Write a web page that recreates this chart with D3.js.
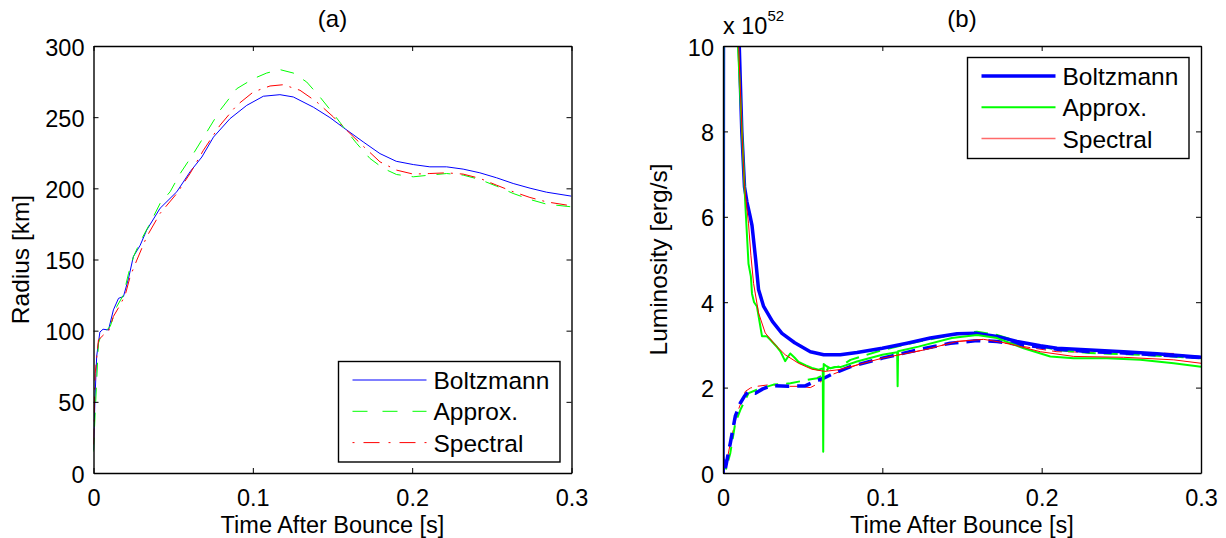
<!DOCTYPE html>
<html><head><meta charset="utf-8">
<script src="https://cdn.jsdelivr.net/npm/d3@7"></script>
<style>
body{margin:0;background:#fff}
svg{display:block}
text{font-family:"Liberation Sans",Arial,Helvetica,sans-serif;fill:#000}
</style>
</head><body>
<svg id="c" width="1226" height="538"></svg>
<script>
// ---------- DATA ----------
const seriesNames = ["Boltzmann", "Approx.", "Spectral"];
const timeTicks = [0, 0.1, 0.2, 0.3];
const radiusTicks = [0, 50, 100, 150, 200, 250, 300];
const lumTicks = [0, 2, 4, 6, 8, 10];

// Panel (a): shock radius [km] vs time [s]
const radiusBoltzmann = [[0,16],[0.001,54],[0.002,82],[0.004,99],[0.006,101],[0.0094,100.5],[0.0125,114.6],[0.0157,122.7],[0.0188,124],[0.022,136.8],[0.025,152],[0.0293,160],[0.0334,170.7],[0.0418,186],[0.0523,197.6],[0.0606,211.6],[0.068,222],[0.0753,236],[0.0857,249],[0.0962,258.3],[0.1066,264.7],[0.117,265.8],[0.1254,264.2],[0.138,257],[0.1484,249.7],[0.1568,242.7],[0.1693,232.6],[0.1798,224.4],[0.19,219],[0.2007,216.7],[0.2111,215.1],[0.2216,215.1],[0.232,213.5],[0.2425,210.9],[0.253,207.4],[0.2634,203.4],[0.274,200.1],[0.2843,197.3],[0.3,194.5]];
const radiusApprox = [[0,15],[0.00105,42.1],[0.0031,91.2],[0.0052,98.2],[0.0073,99.4],[0.0105,102.9],[0.0146,116.9],[0.0188,125.1],[0.022,140.3],[0.0251,152],[0.0293,162.5],[0.0355,175.4],[0.0418,189.4],[0.0481,197.6],[0.0544,210.4],[0.0627,224.4],[0.0711,239.6],[0.0794,254.8],[0.0899,270],[0.1003,277],[0.1087,281],[0.117,283.4],[0.1254,281],[0.1338,274.7],[0.1421,264.2],[0.1505,252.5],[0.1568,243.2],[0.1652,231.5],[0.1735,221],[0.1819,214],[0.1902,209.7],[0.2007,208.1],[0.2111,209.3],[0.2216,210.4],[0.232,209.3],[0.2425,206.2],[0.253,201.5],[0.2634,196.4],[0.2739,192.2],[0.2843,188.9],[0.3,187]];
const radiusSpectral = [[0,20],[0.00105,70],[0.0031,93.5],[0.0063,97],[0.0094,99.4],[0.0125,110],[0.0167,118],[0.0199,125.1],[0.023,138],[0.0272,149.6],[0.0334,166],[0.0418,182.4],[0.0523,196.4],[0.0606,210.4],[0.069,226.8],[0.0794,244.3],[0.0899,258.3],[0.1003,267.7],[0.1108,271.9],[0.1191,272.8],[0.1296,268.9],[0.1401,260.7],[0.1505,250.2],[0.1589,240.8],[0.1693,229.6],[0.1798,218.6],[0.1902,212.8],[0.2007,210],[0.2111,210.4],[0.2216,210.9],[0.232,210],[0.2425,207],[0.253,202.2],[0.2634,197.6],[0.2739,193.6],[0.2843,190.5],[0.3,187.7]];

// Panel (b): luminosity [1e52 erg/s] vs time [s]; solid = neutrinos, dashed = antineutrinos
const lumBoltzmann = [[0,0],[0.0004,14],[0.009,14],[0.0102,10],[0.0118,8.0],[0.0135,6.7],[0.015,6.35],[0.0168,6.05],[0.0182,5.8],[0.0205,5.0],[0.0223,4.3],[0.0255,3.9],[0.031,3.55],[0.037,3.27],[0.045,3.05],[0.0548,2.84],[0.0632,2.77],[0.0736,2.77],[0.0841,2.82],[0.1,2.92],[0.1155,3.04],[0.1301,3.16],[0.1469,3.26],[0.1594,3.27],[0.172,3.2],[0.1845,3.08],[0.1992,2.98],[0.2096,2.92],[0.2305,2.88],[0.2515,2.84],[0.2724,2.79],[0.3,2.71]];
const lumApprox = [[0,0],[0.0003,14],[0.0085,14],[0.0094,10],[0.0119,8.0],[0.014,6.3],[0.016,4.9],[0.0175,4.6],[0.0182,4.2],[0.0195,4.0],[0.0213,3.9],[0.0245,3.2],[0.0275,3.2],[0.0297,3.12],[0.0339,2.95],[0.036,2.85],[0.039,2.62],[0.0422,2.8],[0.045,2.7],[0.0474,2.6],[0.052,2.52],[0.0558,2.46],[0.06,2.42],[0.0626,2.45],[0.0629,0.5],[0.0632,2.55],[0.065,2.5],[0.0675,2.45],[0.07,2.48],[0.0736,2.48],[0.0841,2.61],[0.1,2.77],[0.1093,2.83],[0.1096,2.03],[0.1099,2.85],[0.1227,2.96],[0.1436,3.16],[0.1594,3.23],[0.172,3.16],[0.1887,2.92],[0.2054,2.73],[0.2201,2.69],[0.241,2.69],[0.2619,2.65],[0.2829,2.57],[0.3,2.49]];
const lumSpectral = [[0,0],[0.0002,14],[0.0085,14],[0.0098,10],[0.012,7.9],[0.0135,6.7],[0.0151,6.16],[0.016,5.85],[0.0175,5.1],[0.0192,4.44],[0.0223,3.75],[0.0265,3.28],[0.0328,3.0],[0.039,2.77],[0.0474,2.57],[0.0558,2.43],[0.064,2.38],[0.0728,2.42],[0.0841,2.53],[0.1,2.69],[0.1259,2.88],[0.1469,3.08],[0.1636,3.13],[0.1782,3.04],[0.1992,2.84],[0.2201,2.73],[0.2515,2.71],[0.2829,2.65],[0.3,2.57]];
const lumBarBoltzmann = [[0,0],[0.0004,0.3],[0.0015,0.1],[0.003,0.4],[0.0046,0.7],[0.0077,1.33],[0.0109,1.64],[0.0135,1.8],[0.016,1.91],[0.0203,1.87],[0.025,1.97],[0.0307,2.05],[0.041,2.03],[0.0516,2.04],[0.0579,2.15],[0.0632,2.22],[0.0705,2.35],[0.08,2.49],[0.1,2.69],[0.1218,2.88],[0.1427,3.04],[0.1594,3.1],[0.172,3.08],[0.1887,3.0],[0.21,2.9],[0.2305,2.84],[0.2515,2.81],[0.2724,2.77],[0.3,2.7]];
const lumBarApprox = [[0,0],[0.0003,0.2],[0.002,0.1],[0.0046,0.47],[0.0077,1.17],[0.0109,1.48],[0.0161,1.87],[0.0213,1.95],[0.0318,2.07],[0.0423,2.1],[0.0527,2.18],[0.059,2.22],[0.0632,2.3],[0.066,2.45],[0.074,2.5],[0.08,2.65],[0.1,2.88],[0.1227,3.08],[0.1436,3.23],[0.1594,3.31],[0.172,3.23],[0.1887,3.04],[0.21,2.88],[0.2305,2.81],[0.262,2.77],[0.3,2.69]];
const lumBarSpectral = [[0,0],[0.0002,0.45],[0.0015,0.1],[0.0046,0.7],[0.0088,1.4],[0.014,1.91],[0.0172,1.99],[0.0213,2.03],[0.0297,2.07],[0.04,2.03],[0.0485,2.03],[0.0548,2.0],[0.06,2.1],[0.0653,2.26],[0.0841,2.53],[0.1,2.69],[0.1259,2.88],[0.1469,3.08],[0.1636,3.13],[0.1887,2.96],[0.2096,2.84],[0.2515,2.82],[0.2829,2.8],[0.3,2.69]];

// ---------- DRAWING ----------
const svg = d3.select('#c');
const FS_TICK = 23.5, FS_LABEL = 23.5, FS_LEG = 24.5, FS_TITLE = 24;
const BLUE = '#0000ff', GREEN = '#00ff00', RED = '#ff0000';

function panel(cfg) {
  const x = d3.scaleLinear().domain([0, 0.3]).range([cfg.x0, cfg.x1]);
  const y = d3.scaleLinear().domain(cfg.yDomain).range([cfg.y1, cfg.y0]);
  const g = svg.append('g');
  const clipId = 'clip' + cfg.id;
  svg.append('clipPath').attr('id', clipId).append('rect')
    .attr('x', cfg.x0).attr('y', cfg.y0).attr('width', cfg.x1 - cfg.x0).attr('height', cfg.y1 - cfg.y0);

  const line = d3.line().x(d => x(d[0])).y(d => y(d[1]));
  const lg = g.append('g').attr('clip-path', `url(#${clipId})`);
  cfg.series.forEach(s => {
    lg.append('path').datum(s.data).attr('d', line).attr('fill', 'none')
      .attr('stroke', s.color).attr('stroke-width', s.width)
      .attr('stroke-dasharray', s.dash || null)
      .attr('stroke-linejoin', 'round');
  });

  const styleAxis = sel => {
    sel.select('.domain').attr('stroke', '#000').attr('stroke-width', 1.4);
    sel.selectAll('.tick line').attr('stroke', '#000').attr('stroke-width', 1);
    sel.selectAll('text').style('font-size', FS_TICK + 'px').attr('fill', '#000');
  };
  const ax = g.append('g').attr('transform', `translate(0,${cfg.y1})`)
    .call(d3.axisBottom(x).tickValues(timeTicks).tickSize(-5).tickSizeOuter(0).tickFormat(d3.format('')));
  styleAxis(ax);
  ax.selectAll('text').attr('y', 32.5).attr('dy', null);
  const axt = g.append('g').attr('transform', `translate(0,${cfg.y0})`)
    .call(d3.axisTop(x).tickValues(timeTicks).tickSize(-5).tickSizeOuter(0).tickFormat(''));
  styleAxis(axt);
  const ay = g.append('g').attr('transform', `translate(${cfg.x0},0)`)
    .call(d3.axisLeft(y).tickValues(cfg.yTicks).tickSize(-5).tickSizeOuter(0).tickFormat(d3.format('d')));
  styleAxis(ay);
  ay.selectAll('text').attr('x', -9).attr('y', 9).attr('dy', null);
  const ayr = g.append('g').attr('transform', `translate(${cfg.x1},0)`)
    .call(d3.axisRight(y).tickValues(cfg.yTicks).tickSize(-5).tickSizeOuter(0).tickFormat(''));
  styleAxis(ayr);

  g.append('text').attr('x', (cfg.x0 + cfg.x1) / 2).attr('y', 27).attr('text-anchor', 'middle')
    .style('font-size', FS_TITLE + 'px').text(cfg.title);
  g.append('text').attr('x', (cfg.x0 + cfg.x1) / 2).attr('y', 532.5).attr('text-anchor', 'middle')
    .style('font-size', FS_LABEL + 'px').text('Time After Bounce [s]');
  g.append('text').attr('transform', `translate(${cfg.ylabelX},${(cfg.y0 + cfg.y1) / 2}) rotate(-90)`)
    .attr('text-anchor', 'middle').style('font-size', '24.5px').text(cfg.ylabel);

  const L = cfg.legend;
  const lgd = g.append('g');
  lgd.append('rect').attr('x', L.x).attr('y', L.y).attr('width', L.w).attr('height', L.h)
    .attr('fill', '#fff').attr('stroke', '#000').attr('stroke-width', 1.4);
  L.items.forEach((it, i) => {
    const yy = L.y + L.first + i * L.step;
    lgd.append('line').attr('x1', L.x + 14).attr('x2', L.x + 88).attr('y1', yy).attr('y2', yy)
      .attr('stroke', it.color).attr('stroke-width', it.width).attr('stroke-dasharray', it.dash || null);
    lgd.append('text').attr('x', L.x + 95).attr('y', yy + 9).style('font-size', FS_LEG + 'px').text(it.name);
  });
  return {x, y, g};
}

panel({
  id: 'a', x0: 93.5, x1: 571.5, y0: 46, y1: 473, yDomain: [0, 300], yTicks: radiusTicks,
  title: '(a)', ylabel: 'Radius [km]', ylabelX: 29,
  series: [
    {data: radiusBoltzmann, color: BLUE, width: 1},
    {data: radiusApprox, color: GREEN, width: 1, dash: '14,11'},
    {data: radiusSpectral, color: RED, width: 1, dash: '16,7,2,7'}
  ],
  legend: {x: 338.5, y: 361.5, w: 221.5, h: 100.5, first: 18.5, step: 31.3, items: [
    {name: seriesNames[0], color: BLUE, width: 1},
    {name: seriesNames[1], color: GREEN, width: 1, dash: '15,15'},
    {name: seriesNames[2], color: RED, width: 1, dash: '2,9,16,9'}
  ]}
});

panel({
  id: 'b', x0: 723, x1: 1201, y0: 46, y1: 473, yDomain: [0, 10], yTicks: lumTicks,
  title: '(b)', ylabel: 'Luminosity [erg/s]', ylabelX: 667,
  series: [
    {data: lumBarSpectral, color: RED, width: 1, dash: '10,6'},
    {data: lumBarApprox, color: GREEN, width: 2, dash: '14,8'},
    {data: lumBarBoltzmann, color: BLUE, width: 3.5, dash: '14,8'},
    {data: lumBoltzmann, color: BLUE, width: 3.5},
    {data: lumApprox, color: GREEN, width: 2},
    {data: lumSpectral, color: RED, width: 1}
  ],
  legend: {x: 967.5, y: 57.5, w: 221.5, h: 101, first: 18.5, step: 31.3, items: [
    {name: seriesNames[0], color: BLUE, width: 3.5},
    {name: seriesNames[1], color: GREEN, width: 2},
    {name: seriesNames[2], color: '#ff6a6a', width: 1.5}
  ]}
});

const ex = svg.append('text').attr('x', 723).attr('y', 34).style('font-size', FS_TICK + 'px');
ex.append('tspan').text('x 10');
ex.append('tspan').attr('dy', -13).style('font-size', '15px').text('52');
</script>
</body></html>
